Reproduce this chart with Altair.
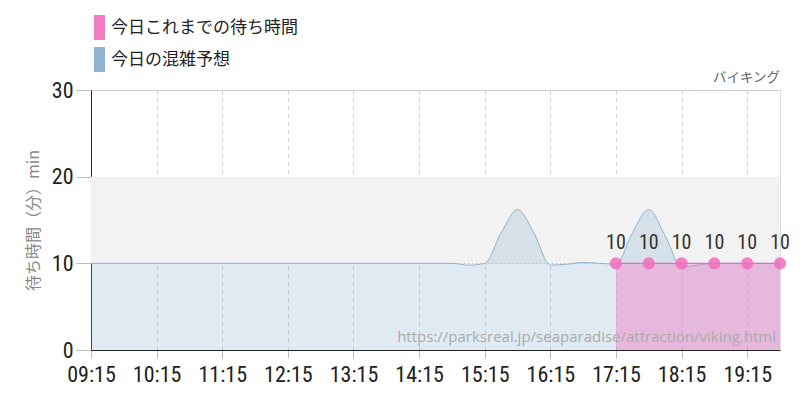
import altair as alt
import pandas as pd

# ---- data ----
series_names = ["今日これまでの待ち時間", "今日の混雑予想"]
series_colors = ["#f07cc4", "#8fb3d0"]

forecast_times = [
    "09:15", "09:30", "09:45", "10:00", "10:15", "10:30", "10:45", "11:00",
    "11:15", "11:30", "11:45", "12:00", "12:15", "12:30", "12:45", "13:00",
    "13:15", "13:30", "13:45", "14:00", "14:15", "14:30", "14:45", "15:00",
    "15:15", "15:30", "15:45", "16:00", "16:15", "16:30", "16:45", "17:00",
    "17:15", "17:30", "17:45", "18:00", "18:15", "18:30", "18:45", "19:00",
    "19:15", "19:30", "19:45",
]
forecast_values = [
    10, 10, 10, 10, 10, 10, 10, 10,
    10, 10, 10, 10, 10, 10, 10, 10,
    10, 10, 10, 10, 10, 10, 10, 9.8,
    10, 13.5, 16.2, 13.5, 9.8, 9.9, 10.1, 10.0,
    9.9, 13.5, 16.2, 13.2, 9.6, 9.8, 10, 10,
    10, 10, 10,
]

actual_times = ["17:15", "17:45", "18:15", "18:45", "19:15", "19:45"]
actual_values = [10, 10, 10, 10, 10, 10]

x_start, x_end = "09:15", "19:45"
y_ticks = [0, 10, 20, 30]
band_low, band_high = [10], [20]
attraction = "バイキング"
source_url = "https://parksreal.jp/seaparadise/attraction/viking.html"
y_title = "待ち時間（分）min"


def to_min(t):
    h, m = t.split(":")
    return int(h) * 60 + int(m)


fc = pd.DataFrame({"t": [to_min(t) for t in forecast_times], "v": forecast_values, "s": series_names[1]})
ac = pd.DataFrame({"t": [to_min(t) for t in actual_times], "v": actual_values, "s": series_names[0]})
band_df = pd.DataFrame({"lo": band_low, "hi": band_high, "x0": [to_min(x_start)], "x1": [to_min(x_end)]})
url_df = pd.DataFrame({"t": [to_min(x_end)], "v": [0], "txt": [source_url]})
name_df = pd.DataFrame({"t": [to_min(x_end)], "v": [y_ticks[-1]], "txt": [attraction]})

x_ticks = list(range(to_min(x_start), to_min(x_end) + 1, 30))

NUM_FONT = "Roboto Condensed, DejaVu Sans Condensed, Liberation Sans Narrow, Roboto"
JP_FONT = "Noto Sans CJK JP"

xscale = alt.Scale(domain=[to_min(x_start), to_min(x_end)], nice=False, zero=False)
yscale = alt.Scale(domain=[0, 30], nice=False)
color_scale = alt.Scale(domain=series_names, range=series_colors)

x_axis = alt.Axis(
    values=x_ticks,
    labelExpr="datum.value % 60 == 15 ? (floor(datum.value/60) < 10 ? '0' : '') + floor(datum.value/60) + ':15' : ''",
    title=None,
    grid=True,
    gridDash=[4, 4],
    gridColor="#cfcfcf",
    tickColor={"condition": {"test": "datum.value % 60 == 15", "value": "#bbbbbb"}, "value": "transparent"},
    tickSize=8,
    domainColor="#222222",
    labelFont=NUM_FONT,
    labelFontSize=22,
    labelColor="#222222",
    labelPadding=6,
    labelFlush=False,
    labelOverlap=False,
)

y_axis = alt.Axis(
    values=y_ticks,
    grid=True,
    gridDash=[2, 2],
    gridColor="#bbbbbb",
    tickSize=15,
    tickColor="#bbbbbb",
    domainColor="#222222",
    labelFont=NUM_FONT,
    labelFontSize=22,
    labelColor="#222222",
    labelPadding=3,
    title=y_title,
    titleFont=JP_FONT,
    titleFontSize=16,
    titleFontWeight="normal",
    titleColor="#888888",
    titlePadding=10,
)

legend = alt.Legend(
    title=None,
    orient="none",
    legendX=-11,
    legendY=-75,
    direction="vertical",
    symbolType="M0.12,-1L1,-1L1,1L0.12,1Z",
    symbolSize=625,
    symbolOpacity=1,
    symbolStrokeWidth=0,
    labelFont=JP_FONT,
    labelFontSize=17,
    labelColor="#222222",
    labelOffset=6,
    labelLimit=400,
    rowPadding=7,
)

band = alt.Chart(band_df).mark_rect(color="#f2f2f2").encode(
    x=alt.X("x0:Q", scale=xscale, axis=x_axis),
    x2="x1:Q",
    y=alt.Y("lo:Q", scale=yscale, axis=y_axis),
    y2="hi:Q",
)

fc_area = alt.Chart(fc).mark_area(interpolate="monotone", fillOpacity=0.28).encode(
    x="t:Q", y="v:Q", fill=alt.Fill("s:N", scale=color_scale, legend=legend)
)
fc_line = alt.Chart(fc).mark_line(interpolate="monotone", color="#8fb3d0", strokeWidth=1).encode(
    x="t:Q", y="v:Q"
)

ac_area = alt.Chart(ac).mark_area(fillOpacity=0.45).encode(
    x="t:Q", y="v:Q", fill=alt.Fill("s:N", scale=color_scale, legend=legend)
)
ac_line = alt.Chart(ac).mark_line(color="#e86cba", strokeWidth=1.2).encode(x="t:Q", y="v:Q")
ac_pts = alt.Chart(ac).mark_circle(size=150, color="#f06ebe", opacity=0.85).encode(x="t:Q", y="v:Q")
ac_lbl = alt.Chart(ac).mark_text(dy=-20, fontSize=20, font=NUM_FONT, color="#333333").encode(
    x="t:Q", y="v:Q", text="v:Q"
)

url_txt = alt.Chart(url_df).mark_text(
    align="right", baseline="bottom", dx=-4, dy=-5, fontSize=15, font="Open Sans", color="#aaaaaa"
).encode(x="t:Q", y="v:Q", text="txt:N")

name_txt = alt.Chart(name_df).mark_text(
    align="right", baseline="bottom", dy=-5, fontSize=13.5, font=JP_FONT, color="#666666"
).encode(x="t:Q", y="v:Q", text="txt:N")

chart = alt.layer(band, fc_area, fc_line, ac_area, ac_line, ac_pts, ac_lbl, url_txt, name_txt).properties(
    width=689,
    height=260,
    padding={"left": 83, "top": 82, "right": 12, "bottom": 42},
    autosize=alt.AutoSizeParams(type="none"),
).configure_view(stroke=None).configure(font=JP_FONT)

chart.save("out.html", embed_options={"renderer": "svg", "actions": False})
